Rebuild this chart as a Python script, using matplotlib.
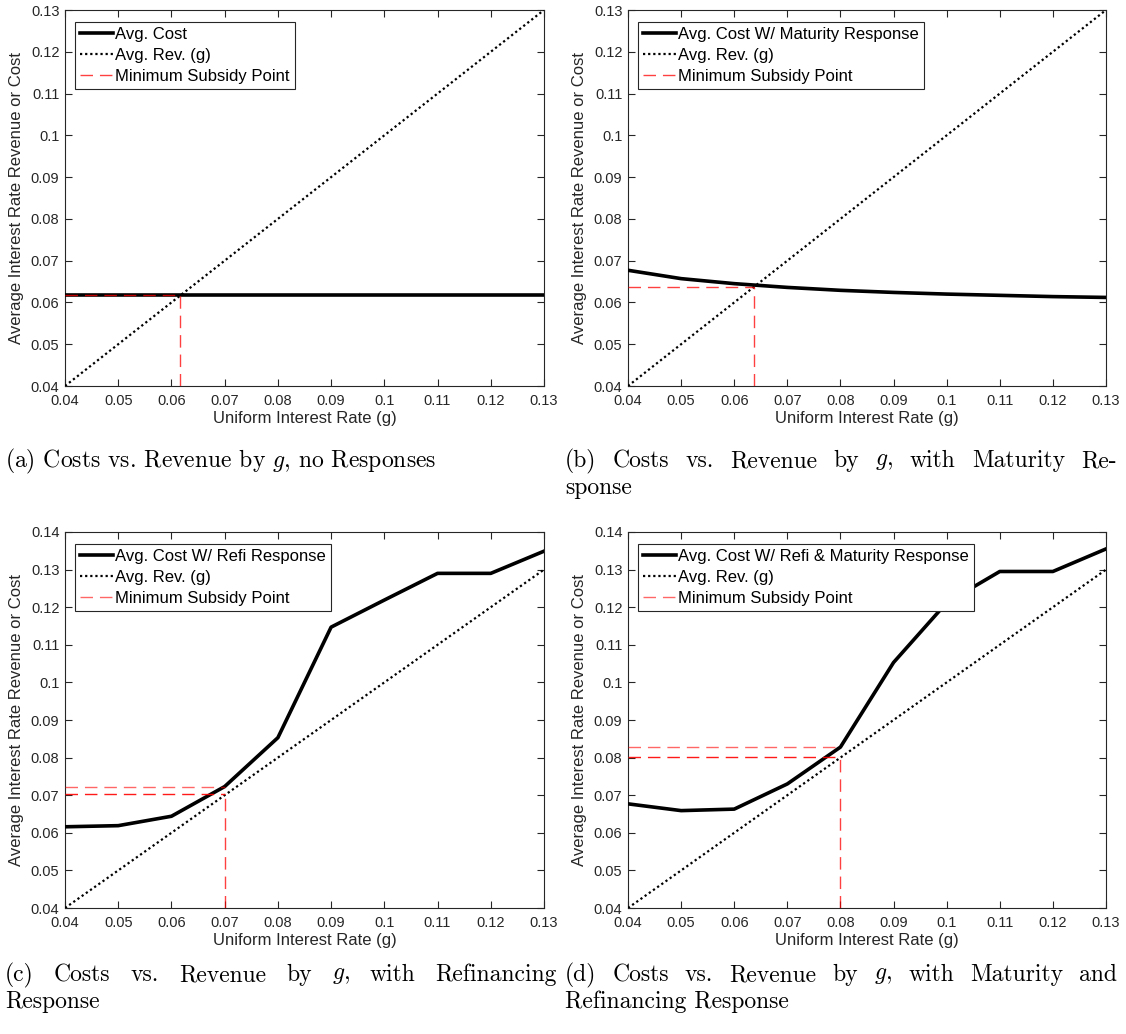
import matplotlib
matplotlib.use("Agg")
import matplotlib.pyplot as plt
from matplotlib.ticker import FuncFormatter, MultipleLocator

plt.rcParams['font.family'] = ['Liberation Sans', 'DejaVu Sans']
plt.rcParams['mathtext.fontset'] = 'cm'

# uniform interest rate grid
g = [0.04, 0.05, 0.06, 0.07, 0.08, 0.09, 0.10, 0.11, 0.12, 0.13]
avg_rev = [0.04, 0.05, 0.06, 0.07, 0.08, 0.09, 0.10, 0.11, 0.12, 0.13]

cost_none = [0.0617, 0.0617, 0.0617, 0.0617, 0.0617, 0.0617, 0.0617, 0.0617, 0.0617, 0.0617]
cost_maturity = [0.0677, 0.0657, 0.0645, 0.0636, 0.0629, 0.0624, 0.0620, 0.0617, 0.0614, 0.0612]
cost_refi = [0.0616, 0.0619, 0.0644, 0.0723, 0.0853, 0.1147, 0.1219, 0.1290, 0.1290, 0.1349]
cost_both = [0.0677, 0.0659, 0.0663, 0.0730, 0.0828, 0.1053, 0.1212, 0.1295, 0.1295, 0.1355]

# minimum subsidy points: x, y levels of horizontal guides
msp_a = (0.0617, [0.0617])
msp_b = (0.0638, [0.0638])
msp_c = (0.07, [0.0722, 0.0702])
msp_d = (0.08, [0.0828, 0.0802])

labels_cost = ['Avg. Cost', 'Avg. Cost W/ Maturity Response',
               'Avg. Cost W/ Refi Response', 'Avg. Cost W/ Refi & Maturity Response']

# (text, justified?)
captions = [
    [('(a) Costs vs. Revenue by $g$, no Responses', False)],
    [('(b) Costs vs. Revenue by $g$, with Maturity Re-', True), ('sponse', False)],
    [('(c) Costs vs. Revenue by $g$, with Refinancing', True), ('Response', False)],
    [('(d) Costs vs. Revenue by $g$, with Maturity and', True), ('Refinancing Response', False)],
]

W, H = 1126, 1034
fig = plt.figure(figsize=(W / 100, H / 100), dpi=100)
renderer = fig.canvas.get_renderer()

def box(x0, y0, x1, y1):
    return [x0 / W, 1 - y1 / H, (x1 - x0) / W, (y1 - y0) / H]

boxes = [box(65, 10, 544, 386), box(628, 10, 1106, 386),
         box(65, 532, 544, 908), box(628, 532, 1106, 908)]
ytops = [0.13, 0.13, 0.14, 0.14]
costs = [cost_none, cost_maturity, cost_refi, cost_both]
msps = [msp_a, msp_b, msp_c, msp_d]
cap_x = [5, 565, 5, 565]
cap_y = [461, 461, 975, 975]
col_w = 552

axcol = '#262626'
fmt = FuncFormatter(lambda v, p: '%g' % round(v, 4))


def caption_line(x, y, text, justify):
    kw = dict(fontsize=17, family='cmr10', va='center', ha='left')
    if not justify:
        fig.text(x / W, 1 - y / H, text, **kw)
        return
    # spread the words so the line fills the column
    words = text.split()
    objs = [fig.text(0, 1 - y / H, w, **kw) for w in words]
    widths = [o.get_window_extent(renderer).width for o in objs]
    gap = (col_w - sum(widths)) / (len(words) - 1)
    pos = x
    for o, w in zip(objs, widths):
        o.set_x(pos / W)
        pos += w + gap


for i in range(4):
    ax = fig.add_axes(boxes[i])
    ax.plot(g, costs[i], color='black', lw=2.6, label=labels_cost[i], zorder=3)
    ax.plot(g, avg_rev, color='black', lw=1.6, ls=(0, (1, 1.3)), label='Avg. Rev. (g)', zorder=3)
    mx, mys = msps[i]
    alphas = [0.6, 0.9] if len(mys) > 1 else [0.75]
    for k, my in enumerate(mys):
        ax.plot([0.04, mx], [my, my], color='red', lw=1.0, ls=(0, (9, 5)),
                alpha=alphas[k], zorder=4,
                label='Minimum Subsidy Point' if k == 0 else None)
    ax.plot([mx, mx], [0.04, min(mys)], color='red', lw=1.0, ls=(0, (9, 5)),
            alpha=0.75, zorder=4)

    ax.set_xlim(0.04, 0.13)
    ax.set_ylim(0.04, ytops[i])
    ax.xaxis.set_major_locator(MultipleLocator(0.01))
    ax.yaxis.set_major_locator(MultipleLocator(0.01))
    ax.xaxis.set_major_formatter(fmt)
    ax.yaxis.set_major_formatter(fmt)
    ax.tick_params(direction='in', top=True, right=True, length=5, width=0.8,
                   labelsize=10.5, colors=axcol, pad=4)
    ax.tick_params(axis='x', pad=6)
    for s in ax.spines.values():
        s.set_color(axcol)
        s.set_linewidth(0.8)
    ax.set_xlabel('Uniform Interest Rate (g)', fontsize=12, color=axcol, labelpad=2)
    ax.set_ylabel('Average Interest Rate Revenue or Cost', fontsize=12, color=axcol, labelpad=5)

    leg = ax.legend(loc='upper left', bbox_to_anchor=(0.021, 0.968), fontsize=12,
                    frameon=True, fancybox=False, framealpha=1, handlelength=2.0,
                    handletextpad=0.1, borderpad=0.3, labelspacing=0.35, borderaxespad=0.0)
    leg.get_frame().set_edgecolor(axcol)
    leg.get_frame().set_linewidth(0.8)

    for j, (line, just) in enumerate(captions[i]):
        caption_line(cap_x[i], cap_y[i] + 27 * j, line, just)

fig.savefig('out.png', dpi=100)
